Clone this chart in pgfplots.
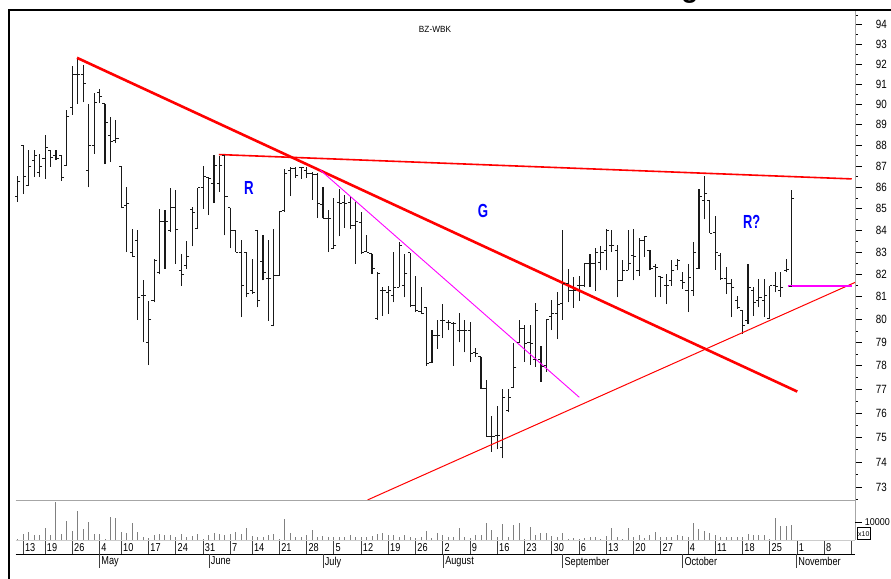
\documentclass[border=0pt]{standalone}
\usepackage{pgfplots}
\pgfplotsset{compat=1.18}
\usepackage{pgfplotstable}
\usepackage{fontspec}
\setmainfont{Liberation Sans}
\definecolor{mag}{RGB}{255,0,255}
\definecolor{bred}{RGB}{255,0,0}

% daily bars: trading day index, open, high, low, close
\pgfplotstableread{
i O H L C
0 85.56 86.52 85.33 86.30
1 88.00 88.03 85.68 86.52
2 86.10 87.76 86.10 87.00
3 87.29 87.80 86.49 87.52
4 86.71 87.60 86.49 87.00
5 87.38 88.49 86.41 87.90
6 87.76 87.80 86.97 87.43
7 87.52 87.80 87.29 87.38
8 87.52 87.52 86.30 86.49
9 87.05 89.74 87.05 89.40
10 89.84 91.89 89.49 91.50
11 91.50 92.27 90.03 91.50
12 91.50 91.94 90.10 91.05
13 86.81 90.03 86.00 88.00
14 88.00 90.56 87.60 90.07
15 90.57 90.75 90.07 90.38
16 90.03 90.03 87.10 89.10
17 88.49 89.40 87.20 88.21
18 88.24 89.24 88.11 88.33
19 87.00 87.00 85.03 85.05
20 85.14 86.01 83.01 85.23
21 83.01 84.08 82.79 82.82
22 83.55 84.00 79.99 80.97
23 81.05 81.76 79.01 81.05
24 79.01 80.80 78.04 79.99
25 80.83 82.71 80.75 82.64
26 82.10 84.99 82.00 84.40
27 84.43 84.95 82.26 84.40
28 84.00 85.99 83.92 85.05
29 85.05 85.86 82.49 84.05
30 82.18 82.91 81.50 82.00
31 82.41 83.51 82.26 82.79
32 84.95 85.08 83.27 84.82
33 84.10 85.99 84.08 85.99
34 86.00 87.00 84.99 86.52
35 86.49 86.49 84.71 86.43
36 86.19 87.52 85.26 87.05
37 86.19 87.48 85.79 87.05
38 87.52 87.52 83.77 85.59
39 85.05 85.05 83.17 84.00
40 84.00 84.00 83.01 83.01
41 83.01 83.55 80.10 81.50
42 83.01 83.01 80.97 81.14
43 81.27 82.71 81.12 81.20
44 84.00 84.00 80.53 80.83
45 82.56 83.77 81.73 82.10
46 81.82 83.55 79.96 81.80
47 79.75 84.08 79.71 81.95
48 81.95 84.87 81.95 84.87
49 84.90 86.89 84.87 86.68
50 86.81 86.97 85.59 86.89
51 86.90 86.97 86.46 86.57
52 86.95 86.97 86.41 86.94
53 86.81 86.97 86.46 86.68
54 86.67 86.73 85.41 86.62
55 86.62 86.68 84.56 85.26
56 85.18 86.01 84.56 84.56
57 84.57 84.95 83.01 84.56
58 83.18 85.49 83.17 83.32
59 85.27 85.94 83.73 85.26
60 85.27 85.64 84.13 85.26
61 85.27 85.56 84.08 84.24
62 84.24 85.33 82.49 84.40
63 84.38 84.87 82.94 83.01
64 83.05 83.77 83.01 83.01
65 82.94 82.94 82.03 82.26
66 80.04 82.10 79.99 82.05
67 81.27 81.42 80.17 81.27
68 81.20 81.50 80.25 81.27
69 81.05 83.01 80.75 81.42
70 81.42 83.47 81.42 83.32
71 81.50 82.94 80.97 82.03
72 82.97 82.97 80.53 80.61
73 80.61 81.91 80.32 80.39
74 80.35 81.42 80.25 80.26
75 80.53 80.53 78.00 78.12
76 78.13 79.54 78.12 79.33
77 79.33 79.99 78.73 79.33
78 79.96 80.68 79.20 79.96
79 79.89 79.99 79.54 79.88
80 79.83 79.89 78.00 79.82
81 79.54 80.27 79.01 79.54
82 79.54 79.99 78.58 79.54
83 79.54 79.89 78.19 78.55
84 78.57 78.77 78.40 78.55
85 78.40 78.40 77.03 77.04
86 77.04 77.39 75.04 75.04
87 75.04 75.88 74.41 75.04
88 75.08 76.33 74.51 75.08
89 74.61 77.03 74.15 76.68
90 76.13 77.03 76.05 76.68
91 77.09 78.99 77.07 77.94
92 79.00 79.99 78.99 79.61
93 79.63 79.75 78.19 78.99
94 79.00 79.75 78.04 78.99
95 78.26 80.71 77.97 80.39
96 78.26 78.84 77.32 77.97
97 78.04 79.99 77.75 79.99
98 80.13 80.86 79.54 80.25
99 80.26 81.20 79.15 80.68
100 80.70 84.03 79.99 81.58
101 81.59 82.26 80.75 81.27
102 81.27 81.88 80.51 81.30
103 81.50 81.91 80.83 81.50
104 81.50 82.51 81.45 82.49
105 82.50 82.94 81.45 82.49
106 82.50 83.21 81.27 83.01
107 82.55 83.27 82.18 83.01
108 83.09 84.08 82.18 84.00
109 83.32 84.00 83.01 83.32
110 83.09 83.32 80.97 81.73
111 81.73 82.64 81.73 82.18
112 82.18 84.00 82.18 82.49
113 82.86 84.08 81.73 82.79
114 82.18 83.67 81.95 83.55
115 83.55 83.73 82.79 83.70
116 83.09 83.09 82.18 82.26
117 82.36 82.49 80.97 82.33
118 81.91 81.95 81.00 81.88
119 81.50 82.03 80.68 81.50
120 81.73 82.64 81.50 82.18
121 82.41 82.71 82.18 82.64
122 81.73 82.10 81.35 81.65
123 81.27 82.49 80.32 81.88
124 81.27 83.47 81.05 83.01
125 82.27 85.94 82.26 85.56
126 85.41 86.52 84.51 85.71
127 85.41 85.41 83.88 83.88
128 83.91 84.67 82.21 83.01
129 82.86 82.97 81.76 81.80
130 81.82 82.33 81.12 81.60
131 81.59 81.80 80.10 81.42
132 80.83 81.05 80.47 80.53
133 80.39 80.39 79.40 79.75
134 79.96 82.49 79.82 81.42
135 81.27 81.42 80.17 80.75
136 80.83 81.80 80.53 80.97
137 80.83 81.80 80.10 81.05
138 80.04 81.50 80.03 81.50
139 81.50 82.10 81.20 81.45
140 81.27 82.10 81.00 81.42
141 82.18 82.71 82.10 82.21
142 81.45 85.89 81.45 85.49
}\ohlc

% daily volume
\pgfplotstableread{
i V
0 600
1 3300
2 4600
3 2900
4 2900
5 6500
6 2900
7 20900
8 3300
9 10700
10 5000
11 16300
12 6100
13 10000
14 3500
15 3500
16 700
17 12800
18 12200
19 4400
20 4100
21 9600
22 4400
23 1800
24 1100
25 2900
26 3300
27 2900
28 2600
29 1800
30 3300
31 1800
32 2200
33 3300
34 700
35 2900
36 3900
37 3500
38 2900
39 3300
40 4400
41 3300
42 6500
43 2200
44 1500
45 1500
46 2900
47 3300
48 700
49 11500
50 4100
51 1500
52 1500
53 2600
54 5600
55 1500
56 2100
57 1500
58 1500
59 1800
60 1500
61 2900
62 1500
63 1800
64 1800
65 2200
66 3300
67 4100
68 2600
69 2900
70 1500
71 2600
72 1800
73 1100
74 1500
75 5000
76 1100
77 4100
78 2600
79 1500
80 1500
81 6500
82 1500
83 900
84 2800
85 2800
86 9600
87 5600
88 1500
89 8700
90 1500
91 8200
92 9600
93 600
94 7100
95 2800
96 4100
97 4100
98 2200
99 1800
100 4100
101 400
102 1100
103 400
104 1100
105 1500
106 1500
107 700
108 2200
109 6500
110 1800
111 400
112 6500
113 1500
114 2800
115 900
116 2600
117 4400
118 1800
119 1800
120 1800
121 2800
122 2200
123 1800
124 9600
125 5900
126 5200
127 4100
128 2600
129 1800
130 1800
131 1500
132 1800
133 1800
134 3300
135 2600
136 2600
137 2600
138 700
139 12100
140 7800
141 7800
142 8200
}\vol

\begin{document}
\begin{tikzpicture}
\useasboundingbox (0,0) rectangle (891bp,579bp);

% price panel
\begin{axis}[
  at={(9bp,79bp)}, anchor=south west,
  width=846bp, height=490bp, scale only axis,
  xmin=-1.62, xmax=153.63,
  ymode=log, ymin=72.48, ymax=94.77,
  axis x line=none, axis y line*=right,
  y axis line style={draw=gray!70, line width=0.8bp},
  xtick=\empty,
  ytick={73,74,75,76,77,78,79,80,81,82,83,84,85,86,87,88,89,90,91,92,93,94},
  yticklabels={73,74,75,76,77,78,79,80,81,82,83,84,85,86,87,88,89,90,91,92,93,94},
  minor ytick={72.5,73.5,74.5,75.5,76.5,77.5,78.5,79.5,80.5,81.5,82.5,83.5,84.5,85.5,86.5,87.5,88.5,89.5,90.5,91.5,92.5,93.5,94.5},
  tick align=outside, major tick length=6.7bp, minor tick length=2.7bp,
  ytick style={black, line width=0.8bp},
  minor tick style={black, line width=0.8bp},
  yticklabel style={font=\fontsize{12}{12}\selectfont, anchor=west, inner sep=0pt, xshift=14bp, xscale=0.82},
]
% high-low range of each day
\addplot[draw=none, mark=none, forget plot,
  error bars/.cd, y dir=plus, y explicit, error mark=none,
  error bar style={draw=black!90, line width=1.1bp}]
  table[x=i, y=L, y error expr=\thisrow{H}-\thisrow{L}] {\ohlc};
% open (left) and close (right)
\addplot[only marks, mark=-, mark size=1.3bp,
  mark options={xshift=-1.3bp, black!90, line width=0.9bp}]
  table[x=i, y=O] {\ohlc};
\addplot[only marks, mark=-, mark size=1.3bp,
  mark options={xshift=1.3bp, black!90, line width=0.9bp}]
  table[x=i, y=C] {\ohlc};
% trend lines
\addplot[draw=bred, line width=2.6bp, mark=none] coordinates {(10.86,92.32) (143.04,76.91)};
\addplot[draw=bred, line width=1.6bp, mark=none] coordinates {(36.91,87.56) (153.03,86.40)};
\addplot[draw=bred, line width=1bp, mark=none] coordinates {(64.2,72.48) (153.63,81.64)};
\addplot[draw=mag, line width=0.9bp, mark=none] coordinates {(55.45,86.83) (103.04,76.67)};
\addplot[draw=mag, line width=1.6bp, mark=none] coordinates {(141.3,81.49) (153.03,81.49)};
\end{axis}

% volume panel with date rows
\begin{axis}[
  at={(9bp,39bp)}, anchor=south west,
  width=846bp, height=40bp, scale only axis, clip=false,
  xmin=-1.62, xmax=153.63, ymin=0, ymax=22222,
  axis x line*=bottom, axis y line*=right,
  x axis line style={draw=none},
  y axis line style={draw=gray!70, line width=0.8bp},
  scaled y ticks=false,
  xtick={1,5,10,15,19,24,29,34,39,43,48,53,58,63,68,73,78,83,88,93,98,103,108,113,118,123,128,133,138,143,148,153},
  xticklabels={13,19,26,4,10,17,24,31,7,14,21,28,5,12,19,26,2,9,16,23,30,6,13,20,27,4,11,18,25,1,8,{}},
  tick align=outside, major tick length=14bp, minor tick length=2.7bp,
  xtick style={black!75, line width=0.8bp},
  minor tick style={black, line width=0.8bp},
  xticklabel style={font=\fontsize{11.5}{11.5}\selectfont, anchor=north west, inner sep=0pt, xshift=1.7bp, yshift=11bp, xscale=0.8},
  ytick=\empty, minor ytick={15000,20000},
  extra y ticks={10000}, extra y tick labels={10000},
  extra y tick style={major tick length=6.7bp, tick style={black, line width=0.8bp},
    tick label style={font=\fontsize{10}{10}\selectfont, anchor=west, inner sep=0pt, xshift=3bp, xscale=0.9}},
]
\addplot[ycomb, gray, line width=1bp] table[x=i, y=V] {\vol};
\draw[gray!70, line width=0.8bp] (axis cs:-0.4,22222) -- (axis cs:153.63,22222);
\draw[gray!40, line width=0.6bp] (axis cs:-0.4,0) -- (axis cs:153.63,0);
\draw[black, line width=0.9bp] ([yshift=-14bp]axis cs:-0.4,0) -- ([yshift=-14bp]axis cs:153.63,0);
\draw[black!75, line width=0.8bp] ([yshift=-14bp]axis cs:15,0) -- ([yshift=-28bp]axis cs:15,0);
\draw[black!75, line width=0.8bp] ([yshift=-14bp]axis cs:35.1,0) -- ([yshift=-28bp]axis cs:35.1,0);
\draw[black!75, line width=0.8bp] ([yshift=-14bp]axis cs:56,0) -- ([yshift=-28bp]axis cs:56,0);
\draw[black!75, line width=0.8bp] ([yshift=-14bp]axis cs:78.1,0) -- ([yshift=-28bp]axis cs:78.1,0);
\draw[black!75, line width=0.8bp] ([yshift=-14bp]axis cs:100,0) -- ([yshift=-28bp]axis cs:100,0);
\draw[black!75, line width=0.8bp] ([yshift=-14bp]axis cs:122,0) -- ([yshift=-28bp]axis cs:122,0);
\draw[black!75, line width=0.8bp] ([yshift=-14bp]axis cs:142.9,0) -- ([yshift=-28bp]axis cs:142.9,0);
\tikzset{month/.style={anchor=north west, inner sep=0pt, font=\fontsize{11.5}{11.5}\selectfont, xscale=0.8}}
\node[month] at ([xshift=1.7bp, yshift=-16.7bp]axis cs:15,0) {May};
\node[month] at ([xshift=1.7bp, yshift=-16.7bp]axis cs:35.1,0) {June};
\node[month] at ([xshift=1.7bp, yshift=-16.7bp]axis cs:56,0) {July};
\node[month] at ([xshift=1.7bp, yshift=-16.7bp]axis cs:78.1,0) {August};
\node[month] at ([xshift=1.7bp, yshift=-16.7bp]axis cs:100,0) {September};
\node[month] at ([xshift=1.7bp, yshift=-16.7bp]axis cs:122,0) {October};
\node[month] at ([xshift=1.7bp, yshift=-16.7bp]axis cs:142.9,0) {November};
\end{axis}

% frame, labels and notes
\draw[black, line width=1.8bp] (9bp,0bp) -- (9bp,569bp) -- (891bp,569bp);
\node[draw=black, line width=0.6bp, inner sep=0.5bp, minimum width=13bp, minimum height=12bp,
  anchor=south west, font=\fontsize{7}{7}\selectfont] at (857bp,39bp) {x10};
\node[font=\fontsize{9}{9}\selectfont, xscale=0.92] at (435bp,550bp) {BZ-WBK};
\node[font=\bfseries\fontsize{19}{19}\selectfont, text=blue, xscale=0.7] at (249bp,391bp) {R};
\node[font=\bfseries\fontsize{19}{19}\selectfont, text=blue, xscale=0.7] at (483bp,368bp) {G};
\node[font=\bfseries\fontsize{19}{19}\selectfont, text=blue, xscale=0.68] at (751.7bp,357bp) {R?};
\node[anchor=base, font=\bfseries\fontsize{28}{28}\selectfont] at (690bp,581bp) {g};
\end{tikzpicture}
\end{document}
